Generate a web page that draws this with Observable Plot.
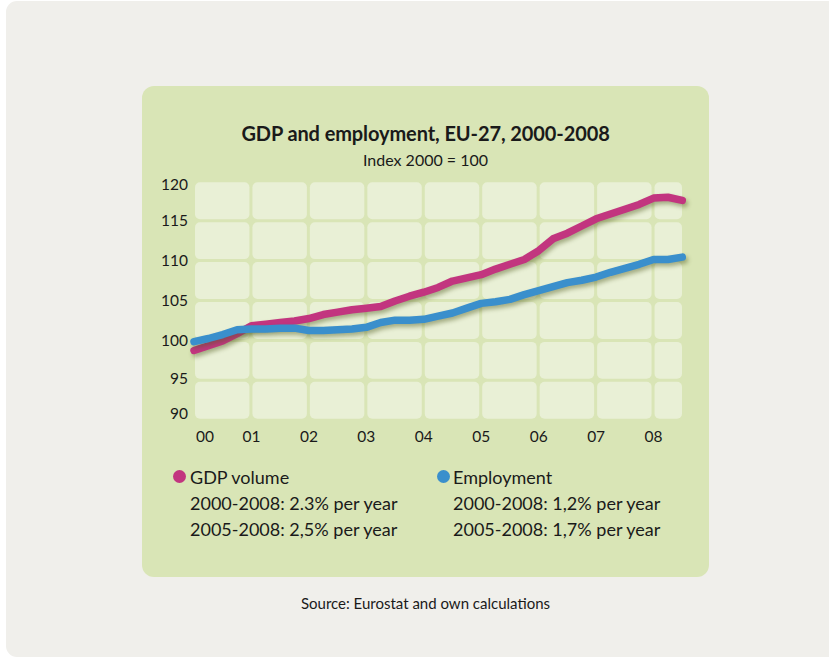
<!DOCTYPE html>
<html>
<head>
<meta charset="utf-8">
<script src="https://cdn.jsdelivr.net/npm/d3@7"></script>
<script src="https://cdn.jsdelivr.net/npm/@observablehq/plot@0.6"></script>
<style>
  html, body { margin: 0; padding: 0; background: #ffffff; }
  body { width: 829px; height: 660px; position: relative; overflow: hidden; font-family: Lato, "Open Sans", sans-serif; color: #1a1a1a; }
  .gray { position: absolute; left: 6px; top: 1px; width: 840px; height: 656px; background: #f0efeb; border-radius: 11px; }
  .green { position: absolute; left: 142px; top: 86px; width: 567px; height: 491px; background: #d9e5b6; border-radius: 12px; }
  .title { position: absolute; left: 142px; width: 567px; top: 121px; text-align: center; font-weight: 700; font-size: 20px; letter-spacing: -0.1px; }
  .subtitle { position: absolute; left: 142px; width: 567px; top: 150px; text-align: center; font-size: 16px; }
  #chart { position: absolute; left: 142px; top: 170px; }
  .leg { position: absolute; font-size: 18px; line-height: 26px; }
  .dot { position: absolute; width: 13px; height: 13px; border-radius: 50%; }
  .source { position: absolute; left: 142px; width: 567px; top: 594px; text-align: center; font-size: 15px; }
  #chart g[aria-label="line"] { filter: drop-shadow(2px 3px 2px rgba(80, 90, 30, 0.45)); }
</style>
</head>
<body>
<div class="gray"></div>
<div class="green"></div>
<div class="title">GDP and employment, EU-27, 2000-2008</div>
<div class="subtitle">Index 2000 = 100</div>
<div id="chart"></div>
<div class="dot" style="left:173px; top:470px; background:#c2357f"></div>
<div class="leg" style="left:190px; top:464px">GDP volume<br>2000-2008: 2.3% per year<br>2005-2008: 2,5% per year</div>
<div class="dot" style="left:437px; top:470px; background:#3a8fcc"></div>
<div class="leg" style="left:453px; top:464px">Employment<br>2000-2008: 1,2% per year<br>2005-2008: 1,7% per year</div>
<div class="source">Source: Eurostat and own calculations</div>
<script>
// Quarterly time points (2000 Q1 .. 2008 Q3 start)
const quarters = [
  2000.00, 2000.25, 2000.50, 2000.75,
  2001.00, 2001.25, 2001.50, 2001.75,
  2002.00, 2002.25, 2002.50, 2002.75,
  2003.00, 2003.25, 2003.50, 2003.75,
  2004.00, 2004.25, 2004.50, 2004.75,
  2005.00, 2005.25, 2005.50, 2005.75,
  2006.00, 2006.25, 2006.50, 2006.75,
  2007.00, 2007.25, 2007.50, 2007.75,
  2008.00, 2008.25, 2008.50
];
const gdpVolume = [
  98.8, 99.4, 100.0, 100.9,
  101.9, 102.1, 102.3, 102.5,
  102.8, 103.3, 103.6, 103.9,
  104.1, 104.3, 105.0, 105.6,
  106.1, 106.7, 107.5, 107.9,
  108.3, 109.0, 109.6, 110.2,
  111.3, 112.8, 113.5, 114.4,
  115.3, 115.9, 116.5, 117.1,
  117.9, 118.0, 117.6
];
const employment = [
  99.9, 100.3, 100.8, 101.4,
  101.5, 101.5, 101.6, 101.6,
  101.3, 101.3, 101.4, 101.5,
  101.7, 102.3, 102.6, 102.6,
  102.7, 103.1, 103.5, 104.1,
  104.7, 104.9, 105.2, 105.8,
  106.3, 106.8, 107.3, 107.6,
  108.0, 108.6, 109.1, 109.6,
  110.2, 110.2, 110.5
];
const yearLabels = ["00", "01", "02", "03", "04", "05", "06", "07", "08"];
const years = [2000, 2001, 2002, 2003, 2004, 2005, 2006, 2007, 2008];
const yTicks = [90, 95, 100, 105, 110, 115, 120];
const xEnd = 2008.53;

const pink = "#c2357f";
const blue = "#3a8fcc";

const gdpData = quarters.map((t, i) => ({t, v: gdpVolume[i]}));
const empData = quarters.map((t, i) => ({t, v: employment[i]}));

const xBreaks = [...years, xEnd];
const cells = [];
for (let i = 0; i < xBreaks.length - 1; i++) {
  for (let j = 0; j < yTicks.length - 1; j++) {
    cells.push({x1: xBreaks[i], x2: xBreaks[i + 1], y1: yTicks[j], y2: yTicks[j + 1]});
  }
}
const fmtYear = d => yearLabels[years.indexOf(d)];

const chart = Plot.plot({
  width: 567,
  height: 285,
  marginLeft: 51.5,
  marginRight: 25.5,
  marginTop: 10.8,
  marginBottom: 34.8,
  x: {domain: [2000, xEnd]},
  y: {domain: [90, 120]},
  style: {background: "transparent", fontFamily: "Lato, 'Open Sans', sans-serif", fontSize: "15px", color: "#1a1a1a", overflow: "visible"},
  marks: [
    Plot.rect(cells, {x1: "x1", x2: "x2", y1: "y1", y2: "y2", fill: "#e9f0d6", inset: 1.5, rx: 5}),
    Plot.line(gdpData, {x: "t", y: "v", stroke: pink, strokeWidth: 7.5, strokeLinecap: "round", strokeLinejoin: "round"}),
    Plot.line(empData, {x: "t", y: "v", stroke: blue, strokeWidth: 7.5, strokeLinecap: "round", strokeLinejoin: "round"}),
    Plot.axisY({ticks: [100, 105, 110, 115], tickSize: 0, tickPadding: 6, fontSize: 15.5}),
    Plot.axisY({ticks: [95], tickSize: 0, tickPadding: 6, fontSize: 15.5, dy: -2}),
    Plot.axisY({ticks: [120], tickSize: 0, tickPadding: 6, fontSize: 15.5, dy: 4}),
    Plot.axisY({ticks: [90], tickSize: 0, tickPadding: 6, fontSize: 15.5, dy: -7}),
    Plot.axisX({ticks: years.slice(1), tickSize: 0, tickPadding: 10, fontSize: 15.5, tickFormat: fmtYear}),
    Plot.axisX({ticks: [2000], tickSize: 0, tickPadding: 10, fontSize: 15.5, tickFormat: fmtYear, dx: 11})
  ]
});
document.getElementById("chart").appendChild(chart);
</script>
</body>
</html>
